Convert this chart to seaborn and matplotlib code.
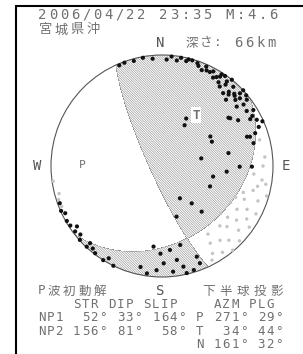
"""
Focal mechanism (beachball) for the 2006/04/22 Miyagi-oki event
Lower hemisphere, equal-area projection, P-wave first motions
"""

import numpy as np
import matplotlib
matplotlib.use("Agg")
import matplotlib.pyplot as plt
from matplotlib.patches import Circle
from matplotlib.lines import Line2D
import seaborn as sns

# Event header
EVENT_DATE = "2006/04/22"
EVENT_TIME = "23:35"
MAGNITUDE = "M:4.6"
REGION = "宮城県沖"
DEPTH = "66km"

# Nodal planes (strike, dip, slip)
NP1 = (52, 33, 164)
NP2 = (156, 81, 58)
# Principal axes (azimuth, plunge)
P_AXIS = (271, 29)
T_AXIS = (34, 44)
N_AXIS = (161, 32)

# Compressional first motions: azimuth (deg), projected distance (0-1)
comp_azm = [337, 345, 355, 2.5, 8, 13, 19, 24, 28.5, 33, 37.5, 42, 47, 52, 58.5, 64,
            70.6, 76, 90.4, 71, 36, 44, 51.5, 55, 59, 31.5, 22.5, 40, 39, 47,
            29, 27, 58.6, 64, 79, 79, 71.6, 101.7, 113, 95, 151, 141.5, 139, 164, 54, 90.5,
            250, 244, 237, 233, 228, 223, 217.5, 212, 206, 234.6, 223,
            186, 181, 174.6, 171, 179, 168, 163, 167, 158.7, 174, 183, 188, 159, 167, 192,
            5, 16, 27, 35, 45, 50, 61, 66, 340, 350, 230, 240, 246, 220, 210,
            30, 34, 38, 42, 46, 49, 53, 57, 25, 20, 14, 10, 43, 48, 33, 62, 68]
comp_r = [0.985, 0.98, 0.97, 0.96, 0.96, 0.97, 0.98, 0.98, 0.97, 0.96, 0.96, 0.96, 0.96, 0.97, 0.965, 0.95,
          0.89, 0.85, 0.81, 0.81, 0.885, 0.83, 0.86, 0.75, 0.80, 0.94, 0.935, 0.857, 1.0, 1.0,
          0.42, 0.48, 0.51, 0.50, 0.36, 0.61, 0.835, 0.47, 0.47, 0.585, 0.333, 0.43, 0.545, 0.475, 0.74, 0.70,
          0.98, 0.97, 0.985, 0.98, 0.995, 0.994, 0.99, 1.0, 1.0, 0.94, 0.95,
          0.73, 0.79, 0.76, 0.857, 0.877, 0.927, 0.98, 0.99, 0.94, 0.957, 0.94, 0.977, 0.875, 0.73, 0.93,
          0.99, 0.99, 0.95, 0.99, 0.92, 0.99, 0.93, 0.99, 0.99, 0.99, 0.96, 0.99, 0.995, 0.97, 0.96,
          0.92, 0.91, 0.93, 0.90, 0.91, 0.93, 0.92, 0.91, 0.95, 0.96, 0.99, 0.99, 0.88, 0.89, 0.985, 0.9, 0.94]

# Dilatational first motions
dil_azm = [75, 85, 98, 106, 105, 117, 117, 126, 125, 133, 134, 142, 140, 150, 95, 90, 113, 129, 146,
           252, 248, 100, 110, 120, 122, 130, 136, 138, 145, 148, 152, 112, 102, 118, 128, 108,
           255, 262]
dil_r = [0.91, 0.93, 0.91, 0.98, 0.85, 0.86, 0.95, 0.83, 0.96, 0.80, 0.97, 0.85, 0.99, 0.91, 0.83, 0.91,
         0.72, 0.68, 0.74, 0.98, 0.975, 0.95, 0.92, 0.78, 0.90, 0.90, 0.75, 0.90, 0.95, 0.82, 0.96,
         0.80, 0.88, 0.70, 0.75, 0.77, 0.96, 0.99]

W, H = 303, 354
INK = "#707070"
SHADE = "#8c8c8c"
FONTS = ["DejaVu Sans Mono", "Noto Sans CJK JP"]

sns.set_style("white")
plt.rcParams["font.family"] = FONTS
plt.rcParams["hatch.color"] = "#d4d4d4"
plt.rcParams["hatch.linewidth"] = 0.8


def to_xy(azm, r):
    a = np.radians(np.asarray(azm, dtype=float))
    r = np.asarray(r, dtype=float)
    return r * np.sin(a), r * np.cos(a)


def axis_xy(azm, plunge):
    r = np.sqrt(2) * np.sin(np.radians(90 - plunge) / 2)
    return to_xy(azm, r)


def plane_vectors(strike, dip, rake):
    f, d, l = np.radians([strike, dip, rake])
    n = np.array([-np.sin(d) * np.sin(f), np.sin(d) * np.cos(f), -np.cos(d)])
    u = np.array([np.cos(l) * np.cos(f) + np.cos(d) * np.sin(l) * np.sin(f),
                  np.cos(l) * np.sin(f) - np.cos(d) * np.sin(l) * np.cos(f),
                  -np.sin(l) * np.sin(d)])
    return n, u


def row(fig, x, y, s, a_pitch, k_pitch, size):
    for ch in s:
        step = k_pitch if ord(ch) > 0x2E80 else a_pitch
        if ch != " ":
            fig.text((x + step / 2) / W, 1 - y / H, ch, ha="center", va="center",
                     fontsize=size, color=INK, family=FONTS)
        x += step


fig = plt.figure(figsize=(W / 100, H / 100), dpi=100)

# frame
fig.add_artist(Line2D([15.5 / W, 15.5 / W], [0, 1 - 5.5 / H], color="black", lw=1.5))
fig.add_artist(Line2D([15.5 / W, 1], [1 - 5.5 / H, 1 - 5.5 / H], color="black", lw=1.5))

# beachball axes: centre (162, 166) px, radius 111 px
cx, cy, R = 162, 166, 111
lim = 1.05
ax = fig.add_axes([(cx - R * lim) / W, (H - cy - R * lim) / H, 2 * R * lim / W, 2 * R * lim / H])
ax.set_xlim(-lim, lim)
ax.set_ylim(-lim, lim)
ax.set_axis_off()

# polarity on a grid
g = np.linspace(-1, 1, 700)
E, N = np.meshgrid(g, g)
rr = np.hypot(E, N)
inc = 2 * np.arcsin(np.clip(rr, 0, 1) / np.sqrt(2))
az = np.arctan2(E, N)
dvec = np.stack([np.sin(inc) * np.cos(az), np.sin(inc) * np.sin(az), np.cos(inc)])
n1, u1 = plane_vectors(*NP1)
pol = np.tensordot(n1, dvec, 1) * np.tensordot(u1, dvec, 1)
pol = np.ma.masked_where(rr > 1.0, pol)

# compressional quadrants: grey fill, then hatch on top
cs = ax.contourf(E, N, pol, levels=[0, 10], colors=[SHADE])
cs.set_clip_path(Circle((0, 0), 1, transform=ax.transData))
hs = ax.contourf(E, N, pol, levels=[0, 10], colors="none", hatches=["\\" * 14])
hs.set_clip_path(Circle((0, 0), 1, transform=ax.transData))

ax.add_patch(Circle((0, 0), 1, fill=False, ec="#555555", lw=0.8))

# first motions
dx, dy = to_xy(dil_azm, dil_r)
sns.scatterplot(x=dx, y=dy, ax=ax, s=6, color="#c4c4c4", edgecolor="none", legend=False)
px_, py_ = to_xy(comp_azm, comp_r)
sns.scatterplot(x=px_, y=py_, ax=ax, s=9, color="#111111", edgecolor="none", legend=False)

# P and T axes
p_e, p_n = axis_xy(*P_AXIS)
t_e, t_n = axis_xy(*T_AXIS)
ax.text(p_e, p_n, "P", ha="center", va="center", fontsize=8, color=INK)
ax.text(t_e, t_n, "T", ha="center", va="center", fontsize=9, color=INK, fontweight="bold",
        bbox=dict(boxstyle="square,pad=0.1", fc="white", ec="none"))

# compass labels
for lbl, (x, y) in {"N": (160, 43), "S": (160, 291), "W": (37, 166), "E": (286, 166)}.items():
    fig.text(x / W, 1 - y / H, lbl, ha="center", va="center", fontsize=10, color="#555555")

# header
row(fig, 37, 15, f"{EVENT_DATE} {EVENT_TIME} {MAGNITUDE}", 11, 16, 10)
row(fig, 37, 30, REGION, 11, 16, 9.5)
row(fig, 185, 43, "深さ:", 10, 14, 9)
row(fig, 233, 43, DEPTH, 11, 16, 10)

# tables
row(fig, 37, 291, "P波初動解", 9, 15.5, 9)
row(fig, 200, 291, "下半球投影", 9, 17, 9)
pitch = 8.8
lines = [
    "    STR DIP SLIP    AZM PLG",
    f"NP1 {NP1[0]:3d}° {NP1[1]:2d}° {NP1[2]:3d}° P {P_AXIS[0]:3d}° {P_AXIS[1]:2d}°",
    f"NP2 {NP2[0]:3d}° {NP2[1]:2d}° {NP2[2]:3d}° T {T_AXIS[0]:3d}° {T_AXIS[1]:2d}°",
    f"                  N {N_AXIS[0]:3d}° {N_AXIS[1]:2d}°",
]
for i, line in enumerate(lines):
    row(fig, 37, 304 + i * 13.6, line, pitch, 16, 9)

fig.savefig("out.png", dpi=100, facecolor="white")
